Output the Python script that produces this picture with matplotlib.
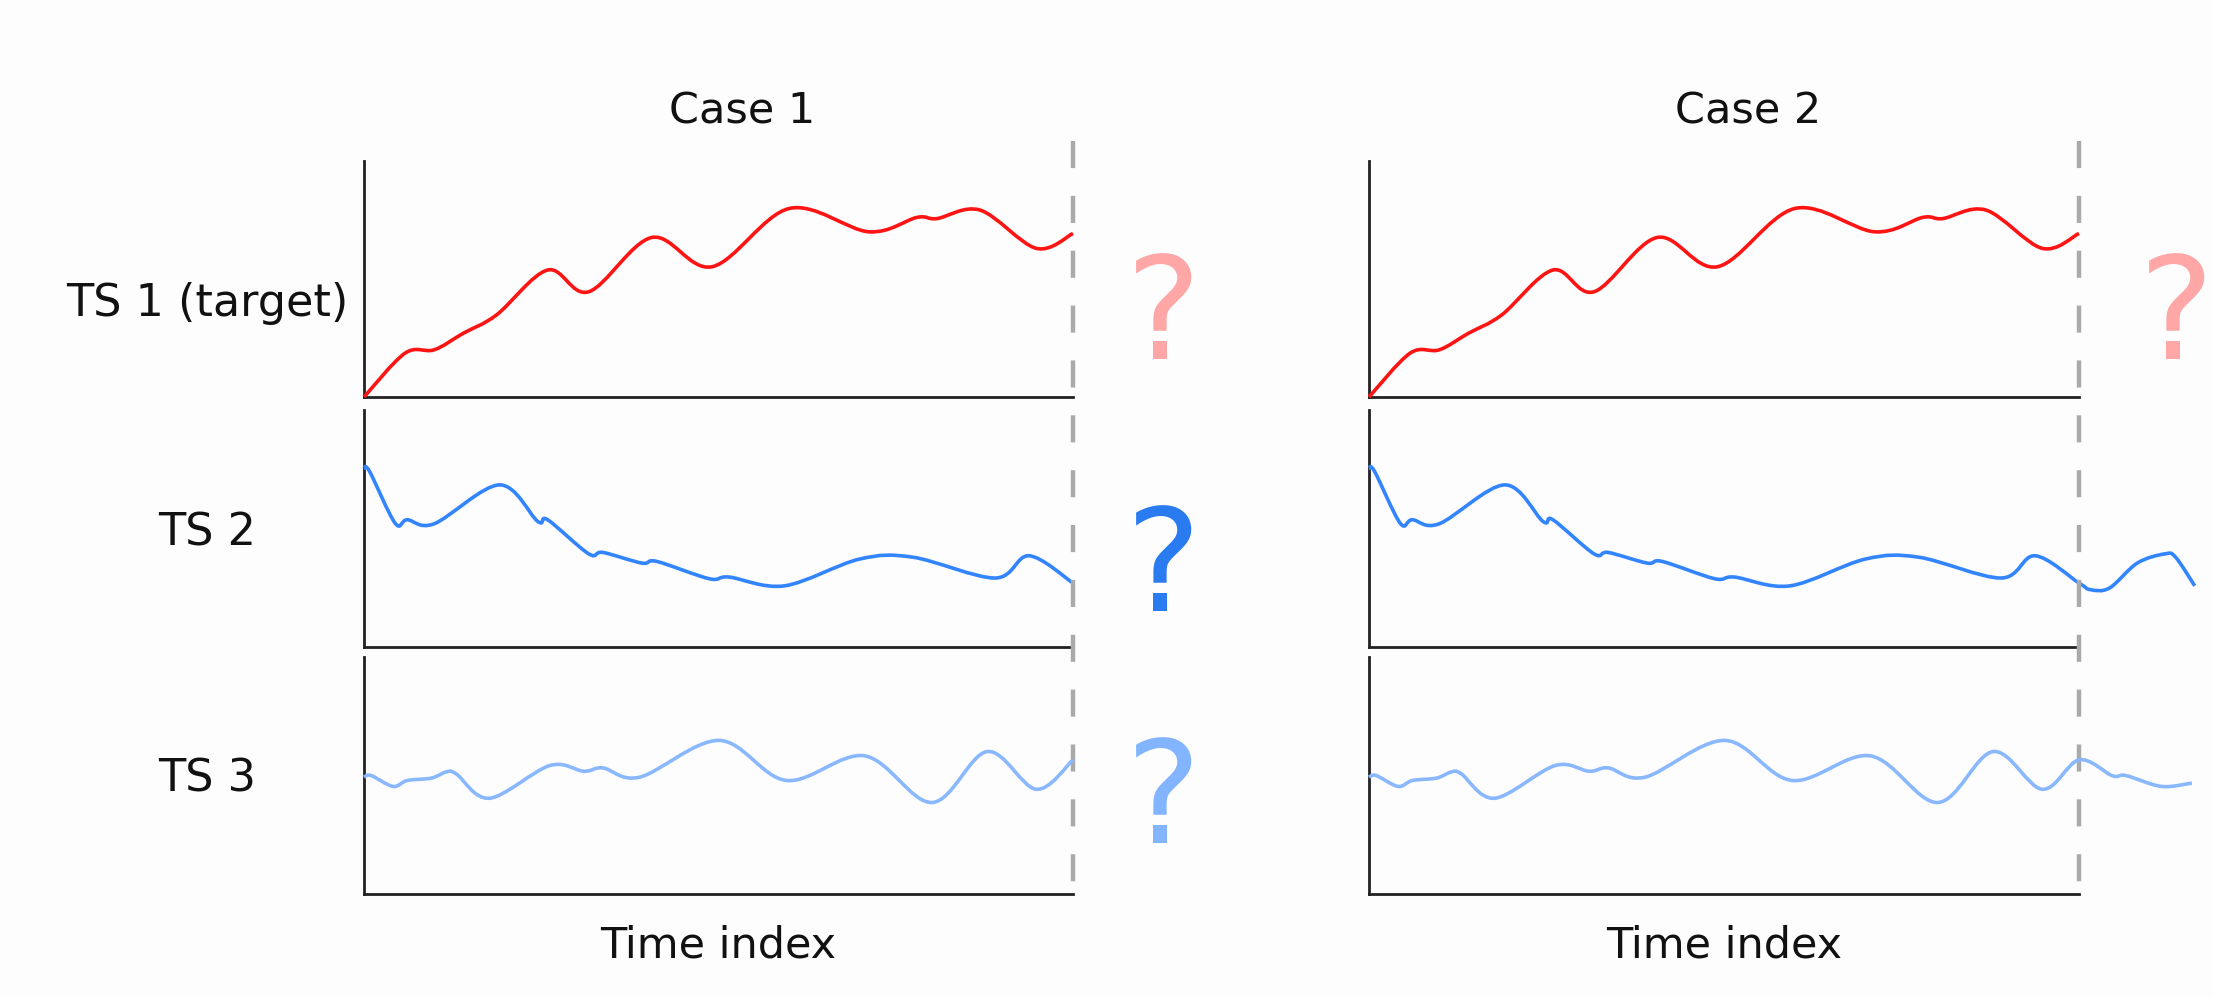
#!/usr/bin/env python3
# two cases of multivariate forecasting: past only vs. covariates known ahead
import numpy as np
import matplotlib
matplotlib.use("Agg")
import matplotlib.pyplot as plt
from matplotlib.path import Path
from matplotlib.patches import PathPatch

plt.rcParams['font.family'] = ['DejaVu Sans']
plt.rcParams['lines.scale_dashes'] = False

W, H = 2213, 997

# values (x: fraction of time axis, y: fraction of panel height)
ts1_x = [0.0, 0.058, 0.099, 0.140, 0.187, 0.259, 0.317, 0.406, 0.491, 0.600,
         0.712, 0.780, 0.808, 0.869, 0.948, 1.0]
ts1_y = [0.0, 0.186, 0.200, 0.270, 0.348, 0.538, 0.446, 0.676, 0.552, 0.799,
         0.700, 0.761, 0.756, 0.792, 0.630, 0.693]

ts2_x = [0.0, 0.008, 0.044, 0.061, 0.099, 0.191, 0.245, 0.259, 0.317, 0.337,
         0.392, 0.413, 0.487, 0.515, 0.593, 0.699, 0.774, 0.890, 0.938, 1.0]
ts2_y = [0.754, 0.740, 0.522, 0.537, 0.520, 0.684, 0.530, 0.537, 0.393, 0.399,
         0.354, 0.361, 0.288, 0.295, 0.258, 0.371, 0.379, 0.291, 0.385, 0.270]
# TS 2 future values (known in case 2)
ts2_fut_x = [1.016, 1.043, 1.082, 1.121, 1.136, 1.163]
ts2_fut_y = [0.242, 0.249, 0.354, 0.393, 0.379, 0.258]

ts3_x = [0.0, 0.010, 0.041, 0.061, 0.095, 0.116, 0.130, 0.177, 0.262, 0.310,
         0.337, 0.389, 0.501, 0.596, 0.706, 0.801, 0.879, 0.948, 1.0]
ts3_y = [0.493, 0.500, 0.454, 0.479, 0.489, 0.515, 0.507, 0.404, 0.542, 0.518,
         0.532, 0.493, 0.648, 0.479, 0.583, 0.386, 0.601, 0.442, 0.566]
ts3_fut_x = [1.047, 1.066, 1.116, 1.159]
ts3_fut_y = [0.499, 0.500, 0.454, 0.468]

row_labels = ['TS 1 (target)', 'TS 2', 'TS 3']
case_titles = ['Case 1', 'Case 2']
line_colors = ['#ff1414', '#3385ff', '#8ab8ff']
q_colors = ['#ffa6a6', '#2a7bf0', '#82b4ff']


def fx(px):
    return px / W


def fy(py):
    return 1 - py / H


def smooth(x, y):
    # catmull-rom through the read points, drawn as bezier segments
    p = np.column_stack([x, y])
    ext = np.vstack([p[0], p, p[-1]])
    verts = [p[0]]
    codes = [Path.MOVETO]
    for i in range(1, len(ext) - 2):
        c1 = ext[i] + (ext[i + 1] - ext[i - 1]) / 6
        c2 = ext[i + 1] - (ext[i + 2] - ext[i]) / 6
        verts += [c1, c2, ext[i + 1]]
        codes += [Path.CURVE4] * 3
    return Path(verts, codes)


fig = plt.figure(figsize=(W / 100, H / 100), dpi=100)
fig.patch.set_facecolor('#fdfdfd')

rows_px = [(161, 397), (410, 647), (657, 894)]
cols_px = [(364, 1073), (1369, 2079)]

series = [(ts1_x, ts1_y, [], []),
          (ts2_x, ts2_y, ts2_fut_x, ts2_fut_y),
          (ts3_x, ts3_y, ts3_fut_x, ts3_fut_y)]

for c, (x0, x1) in enumerate(cols_px):
    for r, (y0, y1) in enumerate(rows_px):
        ax = fig.add_axes([fx(x0), fy(y1), (x1 - x0) / W, (y1 - y0) / H])
        ax.set_facecolor('none')
        ax.set_xlim(0, 1)
        ax.set_ylim(0, 1)
        ax.set_xticks([])
        ax.set_yticks([])
        for s in ['top', 'right']:
            ax.spines[s].set_visible(False)
        for s in ['left', 'bottom']:
            ax.spines[s].set_linewidth(2.0)
            ax.spines[s].set_color('#222222')
        xs, ys, fxs, fys = series[r]
        if c == 1 and fxs:
            xs = list(xs) + fxs
            ys = list(ys) + fys
        ax.add_patch(PathPatch(smooth(xs, ys), fill=False, edgecolor=line_colors[r],
                               lw=2.6, clip_on=False, zorder=3))
        if r == 2:
            # forecast start marker, dashes start from the top
            top = (y1 - 141) / (y1 - y0)
            ax.plot([1.0, 1.0], [top, 0.0], color='#aaaaaa', lw=3.2,
                    dashes=(19.5, 20), clip_on=False, zorder=1)

    fig.text(fx((x0 + x1) / 2 + 24), fy(123), case_titles[c], ha='center', va='baseline',
             fontsize=31, color='#111111')
    fig.text(fx((x0 + x1) / 2), fy(957), 'Time index', ha='center', va='baseline',
             fontsize=31, color='#111111')

label_base = [316, 545, 792]
for r, lab in enumerate(row_labels):
    fig.text(fx(207), fy(label_base[r]), lab, ha='center', va='baseline',
             fontsize=32, color='#111111')

# unknown future values
q_base = [[359, 611, 843], [359]]
q_x = [1163, 2176]
for c in range(2):
    for r, b in enumerate(q_base[c]):
        fig.text(fx(q_x[c]), fy(b), '?', ha='center', va='baseline',
                 fontsize=102, color=q_colors[r])

fig.savefig('out.png', dpi=100, facecolor=fig.get_facecolor())
